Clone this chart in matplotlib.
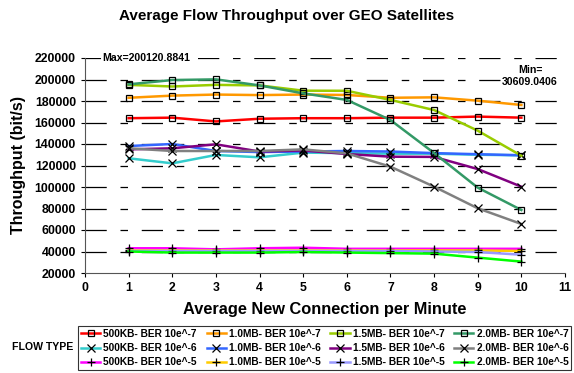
import numpy as np
import matplotlib
matplotlib.use("Agg")
import matplotlib.pyplot as plt

plt.rcParams['font.family'] = ['Liberation Sans', 'DejaVu Sans']
plt.rcParams['font.weight'] = 'bold'

x = [1, 2, 3, 4, 5, 6, 7, 8, 9, 10]

# BER 10e^-7
kb500_e7 = [164000, 164500, 161000, 163500, 164000, 164000, 164500, 164500, 165500, 164500]
mb10_e7 = [183000, 185000, 186000, 185500, 186000, 185600, 183000, 183400, 180300, 176300]
mb15_e7 = [195000, 193500, 195000, 194500, 189600, 189500, 181000, 171600, 152400, 129100]
mb20_e7 = [195500, 199500, 200121, 194500, 187100, 181000, 162300, 131600, 99400, 78600]
# BER 10e^-6
kb500_e6 = [126700, 122000, 129800, 127600, 132000, 131500, 131000, 131000, 130000, 129500]
mb10_e6 = [138100, 140000, 133500, 132500, 133000, 133500, 133000, 131500, 130500, 129500]
mb15_e6 = [135000, 136000, 139700, 133000, 134000, 130700, 128200, 128000, 116700, 100300]
mb20_e6 = [136000, 133500, 133500, 133500, 135000, 131300, 118900, 100300, 80200, 65600]
# BER 10e^-5
kb500_e5 = [43000, 43000, 42000, 43000, 43500, 42500, 42500, 42500, 42500, 42500]
mb10_e5 = [41000, 41000, 41000, 41000, 41000, 41000, 41000, 41000, 41000, 40500]
mb15_e5 = [40500, 40500, 40500, 40500, 40500, 40500, 40500, 40000, 39500, 37000]
mb20_e5 = [40000, 39000, 39000, 39000, 39500, 39000, 38500, 38000, 34300, 30609]

series = [
    ("500KB- BER 10e^-7", kb500_e7, '#FF0000', 's'),
    ("500KB- BER 10e^-6", kb500_e6, '#33CCCC', 'x'),
    ("500KB- BER 10e^-5", kb500_e5, '#FF00FF', '+'),
    ("1.0MB- BER 10e^-7", mb10_e7, '#FF9900', 's'),
    ("1.0MB- BER 10e^-6", mb10_e6, '#3366FF', 'x'),
    ("1.0MB- BER 10e^-5", mb10_e5, '#FFCC00', '+'),
    ("1.5MB- BER 10e^-7", mb15_e7, '#99CC00', 's'),
    ("1.5MB- BER 10e^-6", mb15_e6, '#800080', 'x'),
    ("1.5MB- BER 10e^-5", mb15_e5, '#9999FF', '+'),
    ("2.0MB- BER 10e^-7", mb20_e7, '#339966', 's'),
    ("2.0MB- BER 10e^-6", mb20_e6, '#808080', 'x'),
    ("2.0MB- BER 10e^-5", mb20_e5, '#00FF00', '+'),
]

fig = plt.figure(figsize=(5.74, 3.73), dpi=100)
ax = fig.add_axes([85/574, 1-273/373, 480/574, 215/373])

for label, vals, col, mk in series:
    ms = 4 if mk == 's' else 5.5
    ax.plot(x, vals, color=col, lw=1.8, marker=mk, ms=ms, mec='black',
            mfc='none', mew=0.9, label=label)

ax.set_xlim(0, 11)
ax.set_ylim(20000, 220000)
ax.set_xticks(range(0, 12))
ax.set_yticks(range(20000, 220001, 20000))
ax.tick_params(labelsize=8.8, length=3, width=0.8, colors='black')
for t in ax.get_xticklabels() + ax.get_yticklabels():
    t.set_fontweight('bold')

for v in range(40000, 220001, 20000):
    ax.axhline(v, color='black', lw=0.9, zorder=0,
               linestyle=(0, (17, 11, 6, 11)), dash_capstyle='butt')

for s in ['top', 'right']:
    ax.spines[s].set_visible(False)
for s in ['left', 'bottom']:
    ax.spines[s].set_color('#555555')

ax.set_xlabel("Average New Connection per Minute", fontsize=11.8, fontweight='bold', labelpad=6)
ax.set_ylabel("Throughput (bit/s)", fontsize=11.5, fontweight='bold', labelpad=6)
fig.suptitle("Average Flow Throughput over GEO Satellites", fontsize=11, fontweight='bold', y=0.975)

ax.text(0.4, 220000, "Max=200120.8841", fontsize=7.6, fontweight='bold', va='center',
        ha='left', bbox=dict(facecolor='white', edgecolor='none', pad=1))
ax.text(10.2, 203500, "Min=\n30609.0406", fontsize=7.6, fontweight='bold', va='center',
        ha='center', linespacing=1.3, bbox=dict(facecolor='white', edgecolor='none', pad=1))

leg = fig.legend(loc='upper left', bbox_to_anchor=(78/574, 1-326/373), ncol=4,
                 fontsize=7.3, frameon=True, fancybox=False, edgecolor='black',
                 handlelength=1.9, handletextpad=0.3, columnspacing=0.95,
                 labelspacing=0.4, borderpad=0.3, borderaxespad=0)
leg.get_frame().set_linewidth(0.8)
for t in leg.get_texts():
    t.set_fontweight('bold')

fig.text(43/574, 1-347/373, "FLOW TYPE", fontsize=7.6, fontweight='bold', ha='center', va='center')

fig.savefig("out.png", dpi=100)
